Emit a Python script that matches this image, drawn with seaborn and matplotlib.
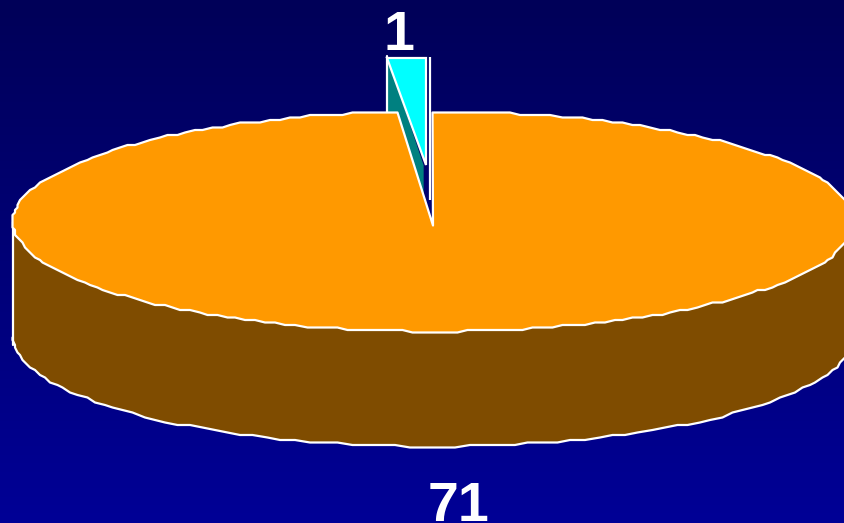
import numpy as np
import seaborn as sns
import matplotlib.pyplot as plt
from matplotlib.colors import LinearSegmentedColormap

# pie data
values = [71, 1]
value_labels = ['71', '1']
top_colors = ['#FF9900', '#00FFFF']
side_colors = ['#7F4C00', '#008080']

W, H = 844, 523
CX, CY = 433, 221.5
RX, RY = 420, 110
DEPTH = 115
EXPLODE = 0.51
STEP = 2.5
EDGE = 1.6


def ellipse_pts(start, end, cx=CX, cy=CY, n=90):
    # angles in degrees clockwise from the top of the pie
    t = np.radians(np.linspace(start, end, n))
    x = cx + RX * np.sin(t)
    y = cy - RY * np.cos(t)
    # the original outline is stair-stepped, keep it a bit rough
    return np.round(x / STEP) * STEP, np.round(y / STEP) * STEP


sns.set_theme(style='white')
plt.rcParams['font.family'] = ['Liberation Sans', 'DejaVu Sans']

fig, ax = plt.subplots(figsize=(W / 100, H / 100), dpi=100)
fig.subplots_adjust(0, 0, 1, 1)
ax.set_xlim(0, W)
ax.set_ylim(H, 0)
ax.axis('off')

# background gradient
cmap = LinearSegmentedColormap.from_list('bg', ['#000058', '#000096'])
ax.imshow(np.linspace(0, 1, 256)[:, None], cmap=cmap, aspect='auto',
          extent=(0, W, H, 0), zorder=0)

sweep = 360 * values[1] / sum(values)
mid = np.radians(sweep / 2)
off_x = -EXPLODE * RX * np.sin(mid)
off_y = -EXPLODE * RY * np.cos(mid)

# small exploded slice, wall first
tip_x = CX + off_x
tip_y = CY + off_y
lx = tip_x - RX * np.sin(np.radians(sweep))
ly = tip_y - RY * np.cos(np.radians(sweep))
ax.fill([lx, tip_x, tip_x, lx], [ly, tip_y, tip_y + DEPTH, ly + DEPTH],
        color=side_colors[1], lw=0, zorder=1)
ax.plot([lx, lx], [ly, ly + 60], color='white', lw=EDGE, zorder=1)
ax.fill([lx, tip_x + 2, tip_x + 2], [ly + 2, ly + 2, tip_y], color=top_colors[1],
        ec='white', lw=EDGE, zorder=2)
ax.plot([tip_x + 6, tip_x + 6], [ly + 1, tip_y + 35], color='white', lw=EDGE,
        solid_capstyle='butt', zorder=2)

# wall of the big slice, its upper edge is hidden under the top
x, y = ellipse_pts(90, 270)
ax.fill(np.r_[x, x[::-1]], np.r_[y + DEPTH, np.full(len(y), CY)],
        color=side_colors[0], lw=0, zorder=3)
ax.plot(x, y + DEPTH, color='white', lw=EDGE, zorder=3)
ax.plot([x[-1], x[-1]], [CY, CY + DEPTH + 8], color='white', lw=EDGE, zorder=3)

# top of the big slice
x, y = ellipse_pts(0, 360 - sweep, n=240)
ax.fill(np.r_[CX, x], np.r_[CY + 4, y], color=top_colors[0], ec='white', lw=EDGE,
        joinstyle='round', zorder=4)

# labels
ax.text(399, 50, value_labels[1], color='white', fontsize=40, fontweight='bold',
        ha='center', va='baseline', zorder=5)
ax.text(459, 521, value_labels[0], color='white', fontsize=40, fontweight='bold',
        ha='center', va='baseline', zorder=5)

fig.savefig('out.png', dpi=100)
